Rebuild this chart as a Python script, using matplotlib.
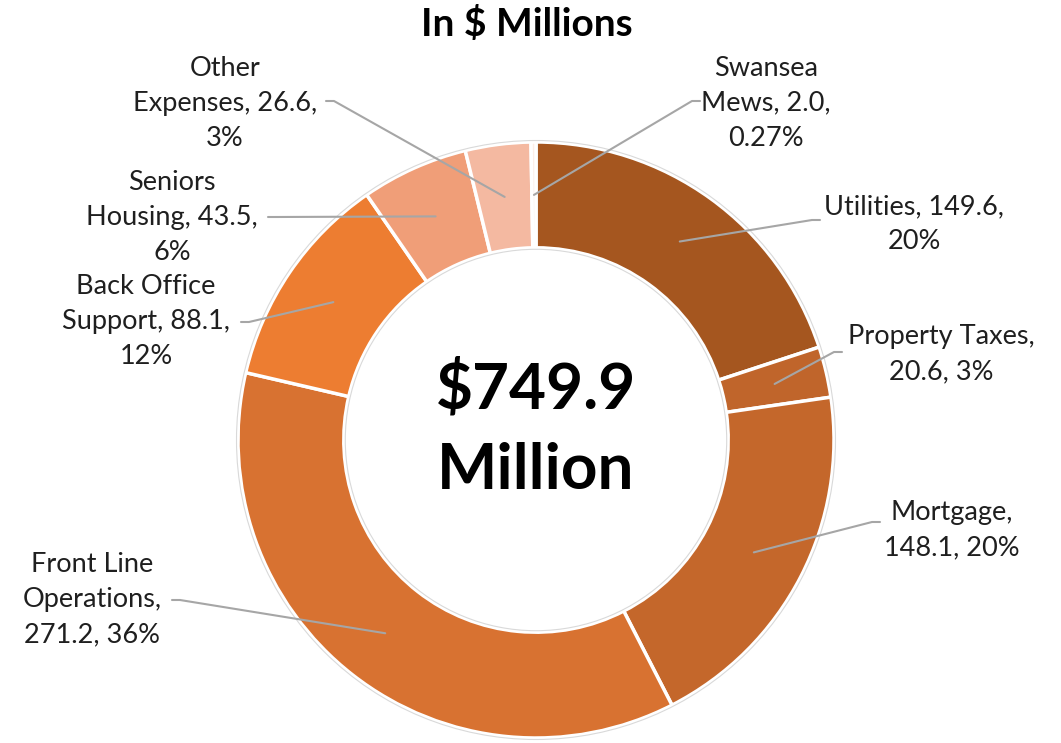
import numpy as np
import matplotlib.pyplot as plt
from matplotlib.patches import Circle

plt.rcParams["font.family"] = ["Lato", "DejaVu Sans"]

# data
categories = ["Utilities", "Property Taxes", "Mortgage", "Front Line Operations",
              "Back Office Support", "Seniors Housing", "Other Expenses", "Swansea Mews"]
values = [149.6, 20.6, 148.1, 271.2, 88.1, 43.5, 26.6, 2.0]
label_text = [
    "Utilities, 149.6,\n20%",
    "Property Taxes,\n20.6, 3%",
    "Mortgage,\n148.1, 20%",
    "Front Line\nOperations,\n271.2, 36%",
    "Back Office\nSupport, 88.1,\n12%",
    "Seniors\nHousing, 43.5,\n6%",
    "Other\nExpenses, 26.6,\n3%",
    "Swansea\nMews, 2.0,\n0.27%",
]
colors = ["#A5561F", "#C0652B", "#C4672B", "#D87231",
          "#ED7D31", "#F09E78", "#F4B9A1", "#FCEEE7"]
title = "In $ Millions"
center_text = "$749.9\nMillion"

W, H = 1061, 743
CX, CY, R = 536, 440, 298   # pixel coords from top-left
RING = 0.355

def fy(y):
    return H - y

# label block centres and leader start points (pixels from top-left)
label_pos = [(914, 224), (941, 354), (952, 530), (92, 600),
             (146, 322), (172, 218), (225, 103), (766, 103)]
leader_start = [(820, 220), (842, 352), (880, 522), (172, 600),
                (241, 322), (268, 217), (326, 101), (700, 101)]

fig = plt.figure(figsize=(W / 100, H / 100), dpi=100)
ax = fig.add_axes([0, 0, 1, 1])
ax.set_xlim(0, W)
ax.set_ylim(0, H)
ax.set_aspect("equal")
ax.axis("off")

wedges, _ = ax.pie(values, colors=colors, startangle=90, counterclock=False,
                   radius=R, center=(CX, fy(CY)),
                   wedgeprops=dict(width=R * RING, edgecolor="white", linewidth=2.5))
ax.set_xlim(0, W)
ax.set_ylim(0, H)

# faint outline of the ring
for rr in (R + 1.5, R * (1 - RING) - 1.5):
    ax.add_patch(Circle((CX, fy(CY)), rr, fill=False, ec="#D9D9D9", lw=0.8))

for w, txt, (lx, ly), (sx, sy) in zip(wedges, label_text, label_pos, leader_start):
    mid = np.deg2rad((w.theta1 + w.theta2) / 2)
    r_mid = R * (1 - RING / 2)
    px = CX + r_mid * np.cos(mid)
    py = fy(CY) + r_mid * np.sin(mid)
    step = 8 if sx < px else -8
    ax.plot([sx, sx + step, px], [fy(sy), fy(sy), py], color="#A6A6A6", lw=1.5,
            solid_capstyle="round")
    ax.text(lx, fy(ly), txt, ha="center", va="center", fontsize=19.5,
            color="#1F1F1F", linespacing=1.5)

ax.text(CX, fy(CY - 11), center_text, ha="center", va="center", fontsize=46,
        fontweight="bold", color="black", linespacing=1.5)
ax.text(527, fy(24), title, ha="center", va="center", fontsize=28,
        fontweight="bold", color="black")

fig.savefig("out.png", dpi=100)
